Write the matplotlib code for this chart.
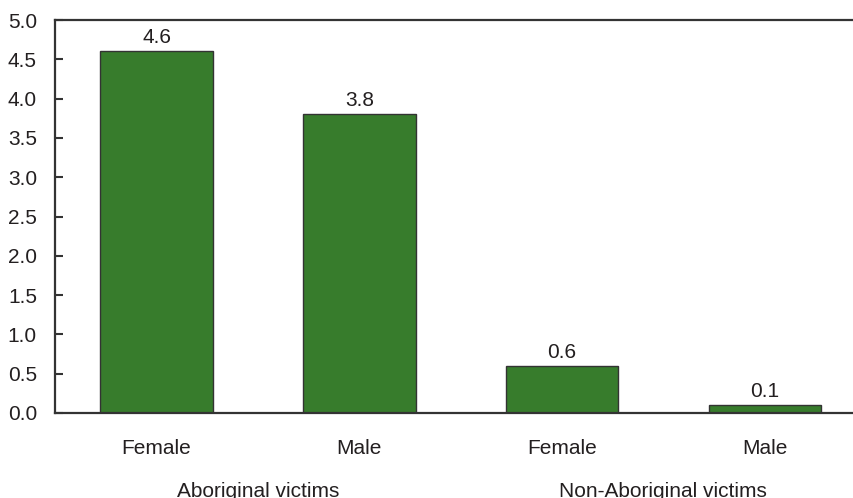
import matplotlib
matplotlib.use('Agg')
import matplotlib.pyplot as plt

# Data
categories = ['Female', 'Male', 'Female', 'Male']
values = [4.6, 3.8, 0.6, 0.1]
groups = ['Aboriginal victims', 'Non-Aboriginal victims']
y_ticks = [0.0, 0.5, 1.0, 1.5, 2.0, 2.5, 3.0, 3.5, 4.0, 4.5, 5.0]

plt.rcParams['font.family'] = ['Liberation Sans', 'DejaVu Sans']

bar_color = '#377c2c'
edge_color = '#333333'
text_color = '#231f20'
fs = 15

fig = plt.figure(figsize=(8.54, 4.98), dpi=100)
ax = fig.add_axes([0.0644, 0.1707, 0.9356, 0.7891])

x = list(range(len(categories)))
bars = ax.bar(x, values, width=0.555, color=bar_color, edgecolor=edge_color, linewidth=1.0)

# value labels above bars
for xi, v in zip(x, values):
    ax.annotate(f'{v:.1f}', xy=(xi, v), xytext=(0, 3), textcoords='offset points',
                ha='center', va='bottom', fontsize=fs, color=text_color)

ax.set_xlim(-0.501, 3.44)
ax.set_ylim(0, 5.0)
ax.set_yticks(y_ticks)
ax.set_yticklabels([f'{t:.1f}' for t in y_ticks])
ax.tick_params(axis='y', direction='in', length=6, width=1.5, pad=13,
               labelsize=fs, labelcolor=text_color, color=edge_color)
ax.set_xticks(x)
ax.set_xticklabels(categories)
ax.tick_params(axis='x', length=0, pad=18.5, labelsize=fs, labelcolor=text_color)

# group labels under each pair of bars
for gi, g in enumerate(groups):
    ax.annotate(g, xy=(gi * 2 + 0.5, 0), xycoords=('data', 'axes fraction'),
                xytext=(0, -49.5), textcoords='offset points',
                ha='center', va='top', fontsize=fs, color=text_color)

for side in ['left', 'bottom', 'top']:
    ax.spines[side].set_linewidth(1.6)
    ax.spines[side].set_color(edge_color)
ax.spines['right'].set_visible(False)

fig.savefig('out.png', dpi=100)
